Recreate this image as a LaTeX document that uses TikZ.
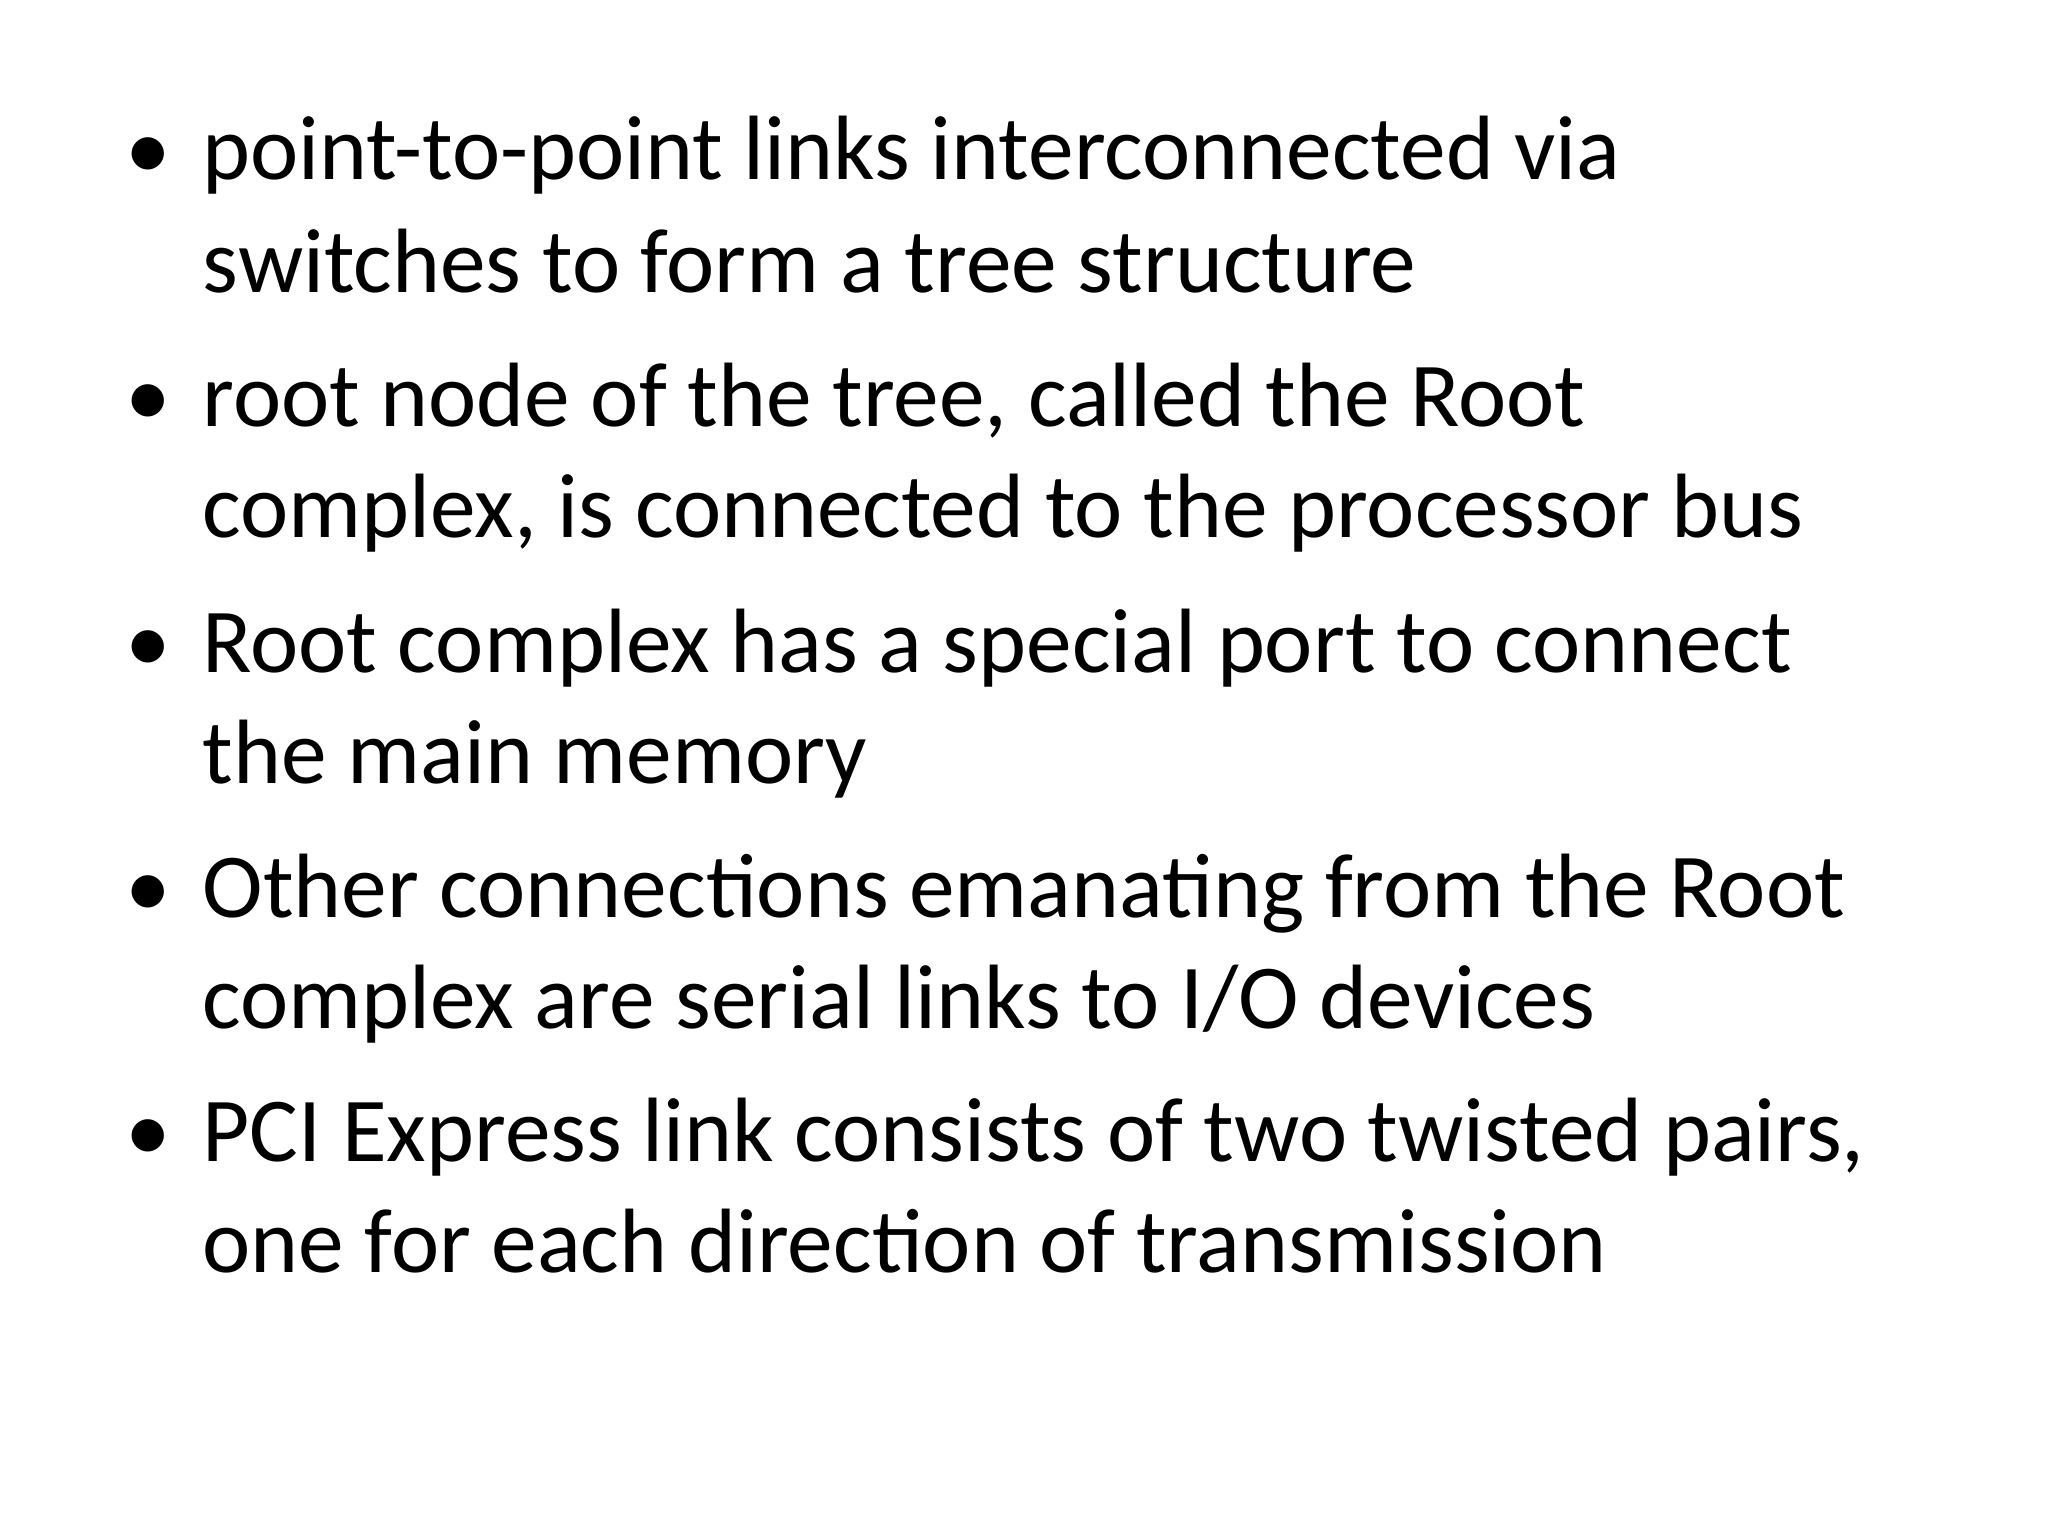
\documentclass[tikz,border=0pt]{standalone}
\usepackage{fontspec}
\setmainfont{Carlito}
\begin{document}
\begin{tikzpicture}[x=1cm,y=1cm,
  ln/.style={anchor=base west,inner sep=0pt,font=\fontsize{26}{30}\selectfont},
  bl/.style={anchor=base,inner sep=0pt,font=\fontsize{26}{30}\selectfont}]
\useasboundingbox[fill=white] (0,0) rectangle (20.48,15.36);
\node[ln] (l1) at (2.02,13.56) {point-to-point links interconnected via};
\node[ln] (l2) at (2.02,12.43) {switches to form a tree structure};
\node[ln] (l3) at (2.02,11.09) {root node of the tree, called the Root};
\node[ln] (l4) at (2.02,9.98) {complex, is connected to the processor bus};
\node[ln] (l5) at (2.02,8.63) {Root complex has a special port to connect};
\node[ln] (l6) at (2.02,7.52) {the main memory};
\node[ln] (l7) at (2.02,6.18) {Other connections emanating from the Root};
\node[ln] (l8) at (2.02,5.07) {complex are serial links to I/O devices};
\node[ln] (l9) at (2.02,3.74) {PCI Express link consists of two twisted pairs,};
\node[ln] (l10) at (2.02,2.63) {one for each direction of transmission};
\foreach \y [count=\i] in {13.56,11.09,8.63,6.18,3.74}
  \node[bl] (b\i) at (1.48,\y) {•};
\end{tikzpicture}
\end{document}
